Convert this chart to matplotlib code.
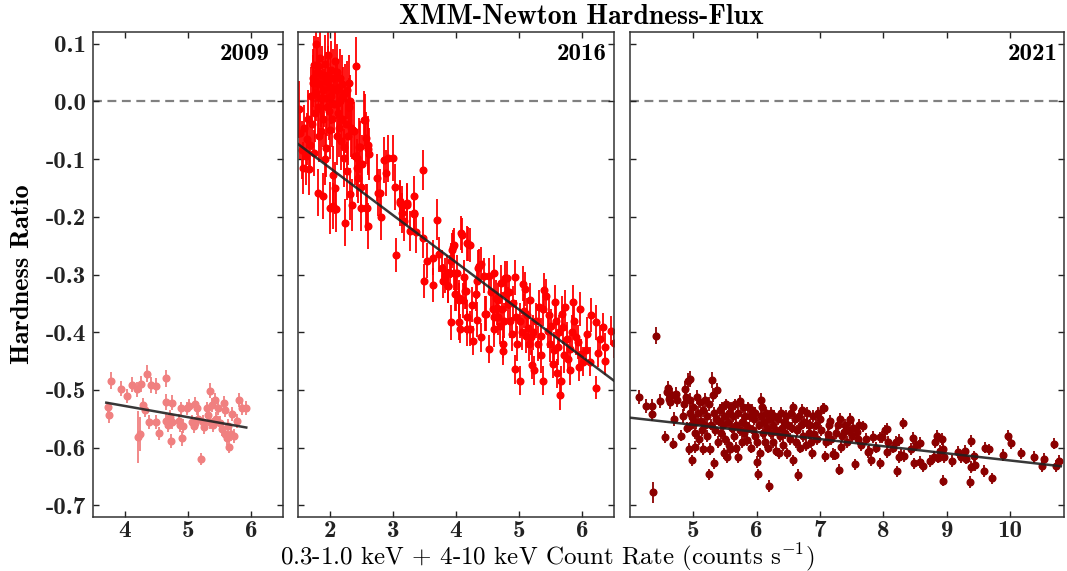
import numpy as np
import matplotlib
matplotlib.use("Agg")
import matplotlib.pyplot as plt

plt.rcParams["axes.unicode_minus"] = False
plt.rcParams["mathtext.fontset"] = "cm"

# ---------------- 2009 ----------------
rate_2009 = [3.735, 3.75, 3.78, 3.94, 4.03, 4.12, 4.19, 4.26, 4.35, 4.42, 4.50, 4.66,
             4.29, 4.32, 4.21, 4.24, 4.38, 4.49, 4.54, 4.65, 4.66, 4.69, 4.73, 4.74,
             4.71, 4.75, 4.85, 4.87, 4.89, 4.91, 4.92, 4.98, 5.02, 5.06, 5.09, 5.11,
             5.14, 5.16, 5.20, 5.23, 5.26, 5.30, 5.32, 5.34, 5.38, 5.39, 5.42, 5.44,
             5.47, 5.53, 5.57, 5.58, 5.59, 5.61, 5.63, 5.65, 5.68, 5.70, 5.73, 5.78,
             5.81, 5.86, 5.91, 5.11, 5.35, 5.50]
hr_2009 = [-0.530, -0.544, -0.484, -0.498, -0.510, -0.491, -0.499, -0.489, -0.472, -0.491,
           -0.493, -0.480, -0.526, -0.534, -0.582, -0.576, -0.556, -0.556, -0.575, -0.521,
           -0.553, -0.561, -0.589, -0.522, -0.547, -0.556, -0.554, -0.561, -0.532, -0.584,
           -0.562, -0.532, -0.527, -0.556, -0.562, -0.524, -0.532, -0.550, -0.620, -0.556,
           -0.564, -0.532, -0.544, -0.501, -0.526, -0.561, -0.517, -0.550, -0.532, -0.568,
           -0.523, -0.535, -0.577, -0.584, -0.562, -0.599, -0.576, -0.541, -0.580, -0.553,
           -0.518, -0.532, -0.531, -0.558, -0.555, -0.557]
err_2009 = [0.010, 0.013, 0.015, 0.013, 0.012, 0.013, 0.013, 0.014, 0.015, 0.014,
            0.014, 0.014, 0.012, 0.012, 0.045, 0.030, 0.012, 0.012, 0.011, 0.014,
            0.012, 0.012, 0.012, 0.013, 0.012, 0.012, 0.012, 0.012, 0.012, 0.013,
            0.012, 0.012, 0.012, 0.012, 0.012, 0.012, 0.012, 0.012, 0.010, 0.012,
            0.012, 0.012, 0.012, 0.013, 0.012, 0.012, 0.012, 0.012, 0.012, 0.012,
            0.012, 0.012, 0.012, 0.012, 0.012, 0.011, 0.012, 0.012, 0.012, 0.012,
            0.012, 0.012, 0.012, 0.012, 0.012, 0.012]

# ---------------- 2016 ----------------
rate_2016 = [1.51, 1.53, 1.56, 1.58, 1.60, 1.62, 1.64, 1.66, 1.68, 1.69,
             1.71, 1.72, 1.73, 1.74, 1.75, 1.76, 1.77, 1.78, 1.79, 1.80,
             1.81, 1.81, 1.82, 1.83, 1.84, 1.85, 1.86, 1.87, 1.88, 1.89,
             1.89, 1.90, 1.91, 1.92, 1.93, 1.94, 1.95, 1.96, 1.97, 1.98,
             1.99, 2.00, 2.00, 2.01, 2.02, 2.03, 2.04, 2.05, 2.05, 2.06,
             2.07, 2.08, 2.09, 2.10, 2.10, 2.11, 2.12, 2.13, 2.14, 2.15,
             2.16, 2.17, 2.18, 2.19, 2.20, 2.21, 2.22, 2.23, 2.24, 2.25,
             2.26, 2.27, 2.28, 2.29, 2.30, 2.31, 2.32, 2.32, 2.34, 2.35,
             2.36, 2.38, 2.40, 2.41, 2.43, 2.44, 2.45, 2.47, 2.48, 2.50,
             2.50, 2.51, 2.55, 2.56, 2.57, 2.58, 2.59, 2.60, 2.61, 2.61,
             2.63, 2.75, 2.77, 2.79, 2.82, 2.86, 2.90, 2.93, 3.00, 3.04,
             3.05, 3.11, 3.12, 3.14, 3.15, 3.18, 3.22, 3.23, 3.27, 3.33,
             3.34, 3.34, 3.37, 3.48, 3.48, 3.50, 3.54, 3.63, 3.64, 3.70,
             3.73, 3.78, 3.79, 3.82, 3.86, 3.87, 3.88, 3.91, 3.92, 3.92,
             3.94, 3.95, 3.97, 3.97, 3.99, 4.00, 4.02, 4.04, 4.04, 4.05,
             4.06, 4.08, 4.09, 4.11, 4.12, 4.15, 4.16, 4.17, 4.17, 4.18,
             4.19, 4.22, 4.22, 4.26, 4.27, 4.31, 4.33, 4.34, 4.35, 4.36,
             4.40, 4.40, 4.44, 4.46, 4.47, 4.52, 4.53, 4.60, 4.60, 4.60,
             4.63, 4.65, 4.66, 4.67, 4.71, 4.74, 4.74, 4.77, 4.79, 4.80,
             4.82, 4.86, 4.88, 4.93, 4.93, 4.95, 5.01, 5.02, 5.06, 5.07,
             5.09, 5.11, 5.14, 5.17, 5.19, 5.21, 5.24, 5.27, 5.32, 5.34,
             5.37, 5.40, 5.43, 5.45, 5.49, 5.53, 5.56, 5.59, 5.60, 5.61,
             5.64, 5.66, 5.67, 5.69, 5.73, 5.75, 5.77, 5.80, 5.81, 5.85,
             5.87, 5.90, 5.93, 5.96, 5.98, 6.01, 6.08, 6.12, 6.14, 6.21,
             6.22, 6.24, 6.28, 6.33, 6.35, 6.36, 6.46, 6.50, 4.56, 4.58,
             4.69, 4.72, 4.76, 4.84, 4.90, 4.97, 5.04, 5.12, 5.15, 5.22,
             5.29, 5.35, 5.38, 5.47, 5.51, 5.55, 5.63, 5.71, 5.83, 5.95,
             6.05]
hr_2016 = [-0.014, -0.055, -0.085, -0.115, -0.046, -0.095, -0.066, -0.030, -0.118, -0.075,
           0.010, -0.040, 0.040, 0.031, -0.090, 0.063, -0.020, 0.099, 0.015, 0.050,
           0.061, -0.158, -0.010, 0.030, -0.060, 0.075, -0.052, 0.005, 0.045, -0.164,
           0.020, -0.030, 0.006, 0.065, -0.100, -0.081, 0.035, -0.010, 0.046, 0.080,
           -0.017, -0.184, 0.025, -0.050, 0.055, 0.010, -0.030, -0.127, -0.181, 0.040,
           -0.005, 0.070, -0.150, -0.187, 0.020, -0.060, 0.050, 0.023, -0.020, -0.046,
           0.040, 0.000, -0.069, 0.030, -0.030, 0.010, -0.080, -0.098, -0.210, 0.015,
           -0.040, -0.121, 0.020, -0.060, 0.031, -0.010, 0.000, -0.161, -0.046, -0.179,
           -0.050, -0.052, -0.095, 0.061, -0.115, -0.098, -0.132, -0.079, -0.079, -0.149,
           -0.184, -0.108, -0.032, -0.032, -0.184, -0.063, -0.184, -0.075, -0.216, -0.083,
           -0.092, -0.132, -0.158, -0.158, -0.200, -0.102, -0.124, -0.099, -0.098, -0.149,
           -0.266, -0.176, -0.173, -0.181, -0.193, -0.207, -0.179, -0.177, -0.225, -0.193,
           -0.164, -0.195, -0.227, -0.119, -0.236, -0.311, -0.276, -0.318, -0.271, -0.205,
           -0.265, -0.288, -0.311, -0.302, -0.297, -0.320, -0.320, -0.297, -0.276, -0.383,
           -0.258, -0.253, -0.249, -0.297, -0.334, -0.334, -0.297, -0.345, -0.383, -0.340,
           -0.394, -0.228, -0.232, -0.345, -0.305, -0.329, -0.329, -0.246, -0.394, -0.374,
           -0.247, -0.249, -0.394, -0.352, -0.415, -0.334, -0.378, -0.312, -0.288, -0.285,
           -0.282, -0.409, -0.302, -0.368, -0.368, -0.302, -0.429, -0.297, -0.374, -0.395,
           -0.340, -0.358, -0.345, -0.374, -0.314, -0.420, -0.432, -0.306, -0.334, -0.306,
           -0.351, -0.380, -0.403, -0.305, -0.464, -0.374, -0.484, -0.380, -0.316, -0.363,
           -0.325, -0.406, -0.393, -0.344, -0.409, -0.456, -0.466, -0.380, -0.356, -0.406,
           -0.484, -0.327, -0.337, -0.397, -0.421, -0.455, -0.348, -0.380, -0.471, -0.426,
           -0.509, -0.484, -0.368, -0.391, -0.356, -0.412, -0.446, -0.429, -0.466, -0.348,
           -0.380, -0.409, -0.417, -0.360, -0.437, -0.451, -0.403, -0.451, -0.370, -0.383,
           -0.496, -0.436, -0.412, -0.391, -0.426, -0.449, -0.397, -0.419, -0.330, -0.360,
           -0.390, -0.360, -0.380, -0.330, -0.350, -0.420, -0.400, -0.370, -0.420, -0.400,
           -0.420, -0.440, -0.360, -0.370, -0.390, -0.430, -0.400, -0.440, -0.400, -0.460,
           -0.430]
err_2016 = [0.050, 0.045, 0.050, 0.045, 0.040, 0.050, 0.045, 0.050, 0.045, 0.050,
            0.050, 0.045, 0.050, 0.050, 0.040, 0.050, 0.050, 0.050, 0.050, 0.050,
            0.050, 0.040, 0.050, 0.050, 0.045, 0.050, 0.050, 0.050, 0.050, 0.040,
            0.050, 0.050, 0.050, 0.050, 0.045, 0.050, 0.050, 0.050, 0.050, 0.050,
            0.050, 0.045, 0.050, 0.050, 0.050, 0.050, 0.050, 0.050, 0.040, 0.050,
            0.050, 0.050, 0.045, 0.040, 0.050, 0.050, 0.050, 0.050, 0.050, 0.050,
            0.050, 0.050, 0.050, 0.050, 0.050, 0.050, 0.045, 0.050, 0.040, 0.050,
            0.050, 0.050, 0.050, 0.050, 0.050, 0.050, 0.045, 0.045, 0.050, 0.045,
            0.050, 0.050, 0.050, 0.050, 0.050, 0.050, 0.045, 0.050, 0.045, 0.045,
            0.040, 0.050, 0.050, 0.045, 0.040, 0.045, 0.040, 0.050, 0.040, 0.045,
            0.045, 0.040, 0.040, 0.040, 0.040, 0.040, 0.040, 0.040, 0.040, 0.040,
            0.030, 0.040, 0.035, 0.035, 0.035, 0.035, 0.035, 0.035, 0.035, 0.035,
            0.035, 0.035, 0.035, 0.035, 0.035, 0.030, 0.030, 0.030, 0.030, 0.035,
            0.030, 0.030, 0.030, 0.030, 0.030, 0.030, 0.030, 0.030, 0.030, 0.030,
            0.030, 0.030, 0.030, 0.030, 0.030, 0.030, 0.030, 0.030, 0.030, 0.030,
            0.025, 0.030, 0.030, 0.030, 0.030, 0.030, 0.030, 0.030, 0.030, 0.030,
            0.030, 0.030, 0.030, 0.030, 0.025, 0.030, 0.030, 0.030, 0.030, 0.030,
            0.030, 0.025, 0.030, 0.030, 0.030, 0.030, 0.025, 0.030, 0.030, 0.030,
            0.030, 0.030, 0.030, 0.030, 0.030, 0.025, 0.025, 0.030, 0.030, 0.030,
            0.030, 0.030, 0.030, 0.030, 0.025, 0.030, 0.025, 0.030, 0.030, 0.030,
            0.030, 0.030, 0.030, 0.030, 0.030, 0.025, 0.025, 0.030, 0.030, 0.030,
            0.025, 0.030, 0.030, 0.030, 0.030, 0.025, 0.030, 0.030, 0.025, 0.030,
            0.025, 0.025, 0.030, 0.030, 0.030, 0.030, 0.025, 0.025, 0.025, 0.030,
            0.030, 0.030, 0.030, 0.030, 0.025, 0.025, 0.030, 0.025, 0.030, 0.030,
            0.020, 0.025, 0.025, 0.025, 0.025, 0.025, 0.025, 0.025, 0.030, 0.030,
            0.030, 0.030, 0.030, 0.030, 0.030, 0.030, 0.030, 0.030, 0.030, 0.030,
            0.030, 0.030, 0.030, 0.030, 0.030, 0.030, 0.030, 0.030, 0.030, 0.025,
            0.025]

# ---------------- 2021 ----------------
rate_2021 = [4.14, 4.25, 4.35, 4.35, 4.36, 4.41, 4.47, 4.56, 4.58, 4.60, 4.61, 4.63,
             4.66, 4.68, 4.69, 4.72, 4.74, 4.81, 4.84, 4.86, 4.87, 4.88, 4.90, 4.91,
             4.93, 4.94, 4.94, 4.95, 4.97, 4.98, 4.98, 5.00, 5.02, 5.03, 5.04, 5.06,
             5.07, 5.09, 5.10, 5.12, 5.13, 5.15, 5.16, 5.18, 5.19, 5.21, 5.22, 5.24,
             5.25, 5.27, 5.28, 5.30, 5.31, 5.32, 5.33, 5.34, 5.36, 5.38, 5.39, 5.40,
             5.42, 5.43, 5.45, 5.46, 5.48, 5.49, 5.50, 5.52, 5.53, 5.54, 5.56, 5.57,
             5.58, 5.59, 5.61, 5.62, 5.64, 5.65, 5.67, 5.68, 5.70, 5.71, 5.73, 5.74,
             5.76, 5.77, 5.79, 5.80, 5.82, 5.83, 5.85, 5.86, 5.88, 5.89, 5.91, 5.92,
             5.94, 5.95, 5.97, 5.98, 6.00, 6.01, 6.02, 6.03, 6.05, 6.06, 6.07, 6.09,
             6.10, 6.12, 6.13, 6.15, 6.16, 6.18, 6.19, 6.20, 6.22, 6.23, 6.25, 6.26,
             6.28, 6.30, 6.31, 6.33, 6.35, 6.36, 6.38, 6.40, 6.42, 6.43, 6.45, 6.47,
             6.48, 6.50, 6.52, 6.54, 6.55, 6.57, 6.58, 6.60, 6.62, 6.63, 6.65, 6.66,
             6.68, 6.70, 6.71, 6.73, 6.75, 6.77, 6.79, 6.80, 6.82, 6.84, 6.86, 6.87,
             6.89, 6.91, 6.93, 6.95, 6.97, 7.00, 7.02, 7.04, 7.06, 7.08, 7.09, 7.12,
             7.14, 7.16, 7.18, 7.21, 7.23, 7.25, 7.28, 7.30, 7.31, 7.33, 7.35, 7.38,
             7.40, 7.42, 7.45, 7.47, 7.48, 7.50, 7.52, 7.55, 7.58, 7.60, 7.62, 7.65,
             7.68, 7.72, 7.76, 7.77, 7.81, 7.84, 7.88, 7.94, 7.95, 7.97, 8.02, 8.05,
             8.06, 8.08, 8.15, 8.20, 8.21, 8.24, 8.25, 8.27, 8.31, 8.32, 8.43, 8.47,
             8.49, 8.52, 8.57, 8.58, 8.62, 8.73, 8.81, 8.80, 8.85, 8.86, 8.89, 8.92,
             8.94, 8.94, 8.95, 9.08, 9.18, 9.23, 9.29, 9.30, 9.38, 9.39, 9.37, 9.43,
             9.45, 9.58, 9.61, 9.67, 9.72, 9.89, 9.96, 10.01, 10.17, 10.37, 10.50, 10.53,
             10.69, 10.72, 10.77]
hr_2021 = [-0.512, -0.528, -0.527, -0.541, -0.677, -0.406, -0.519, -0.581, -0.504, -0.497, -0.515, -0.521,
           -0.508, -0.593, -0.550, -0.507, -0.518, -0.579, -0.545, -0.524, -0.498, -0.512, -0.565, -0.484,
           -0.602, -0.481, -0.518, -0.540, -0.560, -0.622, -0.547, -0.530, -0.575, -0.599, -0.555, -0.512,
           -0.540, -0.585, -0.520, -0.553, -0.570, -0.602, -0.535, -0.560, -0.518, -0.545, -0.580, -0.646,
           -0.525, -0.602, -0.560, -0.483, -0.509, -0.540, -0.627, -0.570, -0.550, -0.500, -0.590, -0.553,
           -0.535, -0.575, -0.530, -0.560, -0.610, -0.545, -0.585, -0.525, -0.616, -0.555, -0.540, -0.595,
           -0.602, -0.530, -0.565, -0.545, -0.580, -0.525, -0.560, -0.600, -0.616, -0.540, -0.519, -0.570,
           -0.555, -0.590, -0.530, -0.575, -0.545, -0.560, -0.587, -0.530, -0.565, -0.545, -0.600, -0.535,
           -0.570, -0.550, -0.580, -0.540, -0.590, -0.625, -0.646, -0.560, -0.610, -0.517, -0.545, -0.530,
           -0.575, -0.555, -0.590, -0.540, -0.565, -0.600, -0.666, -0.550, -0.575, -0.540, -0.590, -0.560,
           -0.545, -0.605, -0.570, -0.550, -0.610, -0.580, -0.540, -0.565, -0.595, -0.555, -0.575, -0.545,
           -0.610, -0.560, -0.585, -0.540, -0.565, -0.530, -0.622, -0.550, -0.590, -0.570, -0.647, -0.545,
           -0.600, -0.560, -0.534, -0.580, -0.555, -0.595, -0.558, -0.540, -0.575, -0.560, -0.590, -0.610,
           -0.545, -0.576, -0.560, -0.585, -0.540, -0.550, -0.570, -0.532, -0.532, -0.615, -0.590, -0.576,
           -0.560, -0.553, -0.585, -0.611, -0.612, -0.575, -0.560, -0.638, -0.550, -0.599, -0.580, -0.573,
           -0.560, -0.590, -0.570, -0.550, -0.552, -0.580, -0.565, -0.629, -0.573, -0.585, -0.560, -0.595,
           -0.563, -0.585, -0.607, -0.605, -0.622, -0.581, -0.600, -0.627, -0.582, -0.581, -0.570, -0.568,
           -0.607, -0.590, -0.600, -0.590, -0.641, -0.616, -0.587, -0.613, -0.558, -0.614, -0.602, -0.583,
           -0.627, -0.596, -0.592, -0.625, -0.632, -0.623, -0.590, -0.616, -0.579, -0.617, -0.606, -0.585,
           -0.602, -0.657, -0.616, -0.623, -0.607, -0.616, -0.606, -0.619, -0.633, -0.588, -0.659, -0.615,
           -0.630, -0.640, -0.600, -0.603, -0.653, -0.613, -0.579, -0.592, -0.610, -0.616, -0.632, -0.619,
           -0.593, -0.632, -0.623]
err_2021 = [0.012, 0.012, 0.012, 0.012, 0.018, 0.015, 0.012, 0.010, 0.012, 0.012, 0.012, 0.012,
            0.012, 0.010, 0.012, 0.012, 0.012, 0.010, 0.012, 0.012, 0.014, 0.012, 0.010, 0.014,
            0.010, 0.014, 0.012, 0.012, 0.010, 0.010, 0.012, 0.012, 0.010, 0.010, 0.012, 0.012,
            0.012, 0.010, 0.012, 0.010, 0.010, 0.010, 0.012, 0.010, 0.012, 0.010, 0.010, 0.010,
            0.012, 0.010, 0.010, 0.014, 0.012, 0.010, 0.010, 0.010, 0.010, 0.012, 0.010, 0.010,
            0.010, 0.010, 0.010, 0.010, 0.010, 0.010, 0.010, 0.010, 0.010, 0.010, 0.010, 0.010,
            0.010, 0.010, 0.010, 0.010, 0.010, 0.010, 0.010, 0.010, 0.010, 0.010, 0.010, 0.010,
            0.010, 0.010, 0.010, 0.010, 0.010, 0.010, 0.010, 0.010, 0.010, 0.010, 0.010, 0.010,
            0.010, 0.010, 0.010, 0.010, 0.010, 0.010, 0.010, 0.010, 0.010, 0.012, 0.010, 0.010,
            0.010, 0.010, 0.010, 0.010, 0.010, 0.010, 0.010, 0.010, 0.010, 0.010, 0.010, 0.010,
            0.010, 0.010, 0.010, 0.010, 0.010, 0.010, 0.010, 0.010, 0.010, 0.010, 0.010, 0.010,
            0.010, 0.010, 0.010, 0.010, 0.010, 0.010, 0.010, 0.010, 0.010, 0.010, 0.010, 0.010,
            0.010, 0.010, 0.010, 0.010, 0.010, 0.010, 0.010, 0.010, 0.010, 0.010, 0.010, 0.010,
            0.010, 0.010, 0.010, 0.010, 0.010, 0.010, 0.010, 0.010, 0.010, 0.010, 0.010, 0.010,
            0.010, 0.010, 0.010, 0.010, 0.010, 0.010, 0.010, 0.010, 0.010, 0.010, 0.010, 0.010,
            0.010, 0.010, 0.010, 0.010, 0.010, 0.010, 0.010, 0.010, 0.010, 0.010, 0.010, 0.010,
            0.010, 0.010, 0.010, 0.010, 0.010, 0.010, 0.010, 0.010, 0.010, 0.010, 0.010, 0.010,
            0.010, 0.010, 0.010, 0.010, 0.010, 0.010, 0.010, 0.010, 0.010, 0.010, 0.010, 0.010,
            0.010, 0.010, 0.010, 0.010, 0.010, 0.010, 0.010, 0.010, 0.010, 0.010, 0.010, 0.010,
            0.010, 0.010, 0.010, 0.010, 0.010, 0.010, 0.010, 0.010, 0.010, 0.010, 0.010, 0.010,
            0.010, 0.010, 0.010, 0.010, 0.010, 0.010, 0.010, 0.010, 0.010, 0.010, 0.010, 0.010,
            0.010, 0.010, 0.010]

# Linear fits (rate range, ratio at both ends)
fit_2009 = ([3.71, 5.92], [-0.522, -0.565])
fit_2016 = ([1.50, 6.50], [-0.074, -0.484])
fit_2021 = ([4.00, 10.80], [-0.548, -0.632])

ratio_ticks = [-0.7, -0.6, -0.5, -0.4, -0.3, -0.2, -0.1, 0.0, 0.1]
ratio_labels = ["-0.7", "-0.6", "-0.5", "-0.4", "-0.3", "-0.2", "-0.1", "0.0", "0.1"]

panels = [
    ("2009", rate_2009, hr_2009, err_2009, fit_2009, "#f08080", (3.5, 6.5), [4, 5, 6]),
    ("2016", rate_2016, hr_2016, err_2016, fit_2016, "#ff0000", (1.5, 6.5), [2, 3, 4, 5, 6]),
    ("2021", rate_2021, hr_2021, err_2021, fit_2021, "#8b0000", (4.0, 10.85), [5, 6, 7, 8, 9, 10]),
]

W, H = 1067, 571
fig = plt.figure(figsize=(W / 100, H / 100), dpi=100)

# axes frames in pixel coordinates (left, right) and year-label inset from the right edge
frames = [(93, 283), (298, 614), (630, 1064)]
label_inset = [13, 7, 6]
top_px, bot_px = 32, 517

bold = "cmb10"
tick_fs = 18

for i, ((year, xr, yr, er, fit, col, xlim, xt), (l, r)) in enumerate(zip(panels, frames)):
    ax = fig.add_axes([l / W, 1 - bot_px / H, (r - l) / W, (bot_px - top_px) / H])
    ax.axhline(0.0, color="#808080", lw=1.6, ls=(0, (4, 2.5)), zorder=1)
    ax.errorbar(xr, yr, yerr=er, fmt="o", color=col, ms=4.8, elinewidth=1.3,
                capsize=0, zorder=2)
    ax.plot(fit[0], fit[1], color="#222222", lw=1.8, alpha=0.9, zorder=3)
    ax.set_xlim(*xlim)
    ax.set_ylim(-0.72, 0.12)
    ax.set_xticks(xt)
    ax.set_yticks(ratio_ticks)
    ax.tick_params(axis="both", direction="in", top=True, right=True, length=4,
                   width=1, colors="#222222")
    ax.tick_params(axis="x", pad=2)
    ax.tick_params(axis="y", pad=5)
    ax.set_xticklabels([str(t) for t in xt], fontfamily=bold, fontsize=tick_fs)
    if i == 0:
        ax.set_yticklabels(ratio_labels, fontfamily=bold, fontsize=tick_fs)
    else:
        ax.set_yticklabels([])
    for s in ax.spines.values():
        s.set_linewidth(1.1)
        s.set_color("#333333")
    ax.text(1 - label_inset[i] / (r - l), 0.978, year, transform=ax.transAxes,
            ha="right", va="top", fontfamily=bold, fontsize=18)

fig.text(0.545, 0.970, "XMM-Newton Hardness-Flux", ha="center", va="center",
         fontfamily=bold, fontsize=20)
fig.text(0.513, 0.025, r"0.3-1.0 keV + 4-10 keV Count Rate (counts s$^{\mathrm{-1}}$)",
         ha="center", va="center", fontfamily="cmr10", fontsize=18)
fig.text(0.021, 1 - 274.5 / H, "Hardness Ratio", rotation=90, ha="center", va="center",
         fontfamily=bold, fontsize=19)

fig.savefig("out.png", dpi=100)
